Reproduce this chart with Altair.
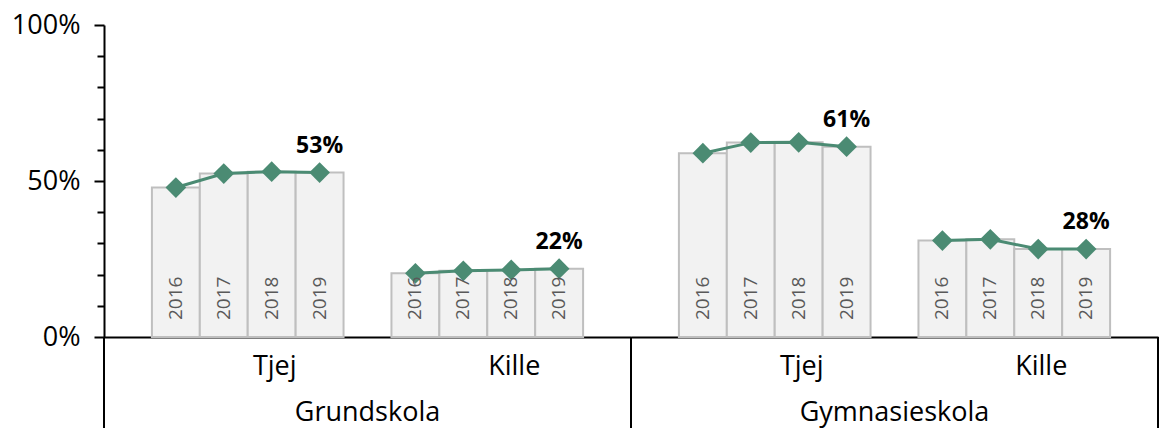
import altair as alt
import pandas as pd

years = ["2016", "2017", "2018", "2019"]
schools = ["Grundskola", "Gymnasieskola"]
genders = ["Tjej", "Kille"]

grund_tjej = [0.479, 0.524, 0.530, 0.527]
grund_kille = [0.204, 0.212, 0.215, 0.219]
gymn_tjej = [0.589, 0.623, 0.624, 0.610]
gymn_kille = [0.309, 0.313, 0.282, 0.282]

y_tick_values = [0.0, 0.1, 0.2, 0.3, 0.4, 0.5, 0.6, 0.7, 0.8, 0.9, 1.0]

series = {
    ("Grundskola", "Tjej"): grund_tjej,
    ("Grundskola", "Kille"): grund_kille,
    ("Gymnasieskola", "Tjej"): gymn_tjej,
    ("Gymnasieskola", "Kille"): gymn_kille,
}

rows = []
for (s, g), vals in series.items():
    for y, v in zip(years, vals):
        rows.append({"school": s, "gender": g, "year": y, "value": v})
df = pd.DataFrame(rows)

FONT = "Open Sans"
GREEN = "#4B8B73"
W, H = 527, 312
MAJOR = "abs(datum.value*100 % 50) < 0.01"

x_enc = alt.X(
    "gender:N",
    sort=genders,
    title=None,
    scale=alt.Scale(paddingInner=0.2, paddingOuter=0.2),
    axis=alt.Axis(
        labelFont=FONT, labelFontSize=27, labelColor="#000000", labelAngle=0,
        labelPadding=16, labelOffset=27, ticks=False,
        domainColor="#000000", domainWidth=2,
    ),
)
xo_enc = alt.XOffset("year:N", sort=years, scale=alt.Scale(paddingInner=0, paddingOuter=0))
y_scale = alt.Scale(domain=[0, 1], nice=False)
y_axis = alt.Axis(
    values=y_tick_values,
    labelExpr="(" + MAJOR + ") ? format(datum.value, '.0%') : ''",
    labelOverlap=False,
    labelFont=FONT, labelFontSize=27, labelColor="#000000",
    tickSize={"condition": {"test": MAJOR, "value": 10}, "value": 7},
    tickColor="#000000", tickWidth=2, labelPadding=14,
    domainColor="#000000", domainWidth=2, grid=False, minExtent=96,
)
y_enc = alt.Y("value:Q", title=None, scale=y_scale, axis=y_axis)

bars = alt.Chart().mark_bar(fill="#F2F2F2", stroke="#BFBFBF", strokeWidth=2).encode(
    x=x_enc, xOffset=xo_enc, y=y_enc
)

line = alt.Chart().mark_line(color=GREEN, strokeWidth=3).encode(
    x=x_enc, xOffset=xo_enc, y=y_enc, detail="gender:N"
)

points = alt.Chart().mark_point(shape="diamond", filled=True, size=430, color=GREEN, opacity=1).encode(
    x=x_enc, xOffset=xo_enc, y=y_enc
)

last_labels = alt.Chart().transform_filter(alt.datum.year == "2019").mark_text(
    font=FONT, fontSize=23, fontWeight="bold", color="#000000", baseline="alphabetic", dy=-20
).encode(
    x=x_enc, xOffset=xo_enc, y=y_enc, text=alt.Text("value:Q", format=".0%")
)

year_text = alt.Chart().mark_text(
    font=FONT, fontSize=19, color="#595959", angle=270, align="left", baseline="middle", dx=17
).encode(
    x=x_enc, xOffset=xo_enc,
    y=alt.Y(datum=0, type="quantitative", title=None, scale=y_scale, axis=y_axis),
    text="year:N",
)

rule_left = alt.Chart().mark_rule(color="#000000", strokeWidth=2).encode(
    x=alt.value(0), y=alt.value(H), y2=alt.value(H + 100)
)
rule_right = alt.Chart().mark_rule(color="#000000", strokeWidth=2).encode(
    x=alt.value(W), y=alt.value(H), y2=alt.value(H + 100)
)

layer = alt.layer(bars, line, points, last_labels, year_text, rule_left, rule_right).properties(
    width=W, height=H
)

chart = layer.facet(
    data=df,
    column=alt.Column(
        "school:N",
        sort=schools,
        title=None,
        header=alt.Header(labelOrient="bottom", labelFont=FONT, labelFontSize=27,
                          labelColor="#000000", labelPadding=21),
    ),
    spacing=0,
    bounds="flush",
).properties(
    padding={"top": 3, "left": 0, "right": 0, "bottom": 0}
).configure_view(strokeWidth=0)

chart.save("out.html", embed_options={"renderer": "svg", "actions": False})
